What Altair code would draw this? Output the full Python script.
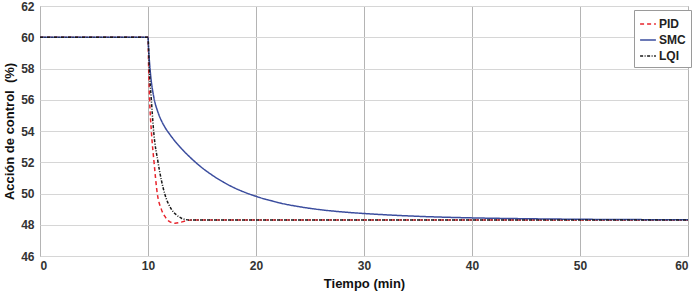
import altair as alt
import pandas as pd

series_names = ["PID", "SMC", "LQI"]
series_colors = ["#e8242c", "#3b4d9e", "#1a1a1a"]

pid_t = [0, 10, 10.06, 10.15, 10.31, 10.56, 10.86, 11.23, 11.6, 12.0, 12.5, 13.0, 13.5, 14.0, 60]
pid_v = [60, 60, 58.0, 56.0, 54.0, 52.0, 50.0, 49.0, 48.5, 48.2, 48.1, 48.15, 48.25, 48.3, 48.3]

smc_t = [0, 10, 10.05, 10.15, 10.3, 10.45, 10.6, 10.8, 11.0, 11.25, 11.5, 12, 12.5, 13, 14, 15, 16, 17, 18,
         20, 22, 25, 28, 30, 35, 40, 45, 50, 55, 60]
smc_v = [60, 60, 59.3, 58.3, 57.2, 56.5, 55.95, 55.45, 55.05, 54.65, 54.32, 53.8, 53.35, 52.95, 52.25,
         51.65, 51.15, 50.72, 50.36, 49.82, 49.43, 49.05, 48.82, 48.72, 48.54, 48.44, 48.385, 48.35,
         48.33, 48.32]

lqi_t = [0, 10, 10.12, 10.31, 10.52, 10.93, 11.54, 12.16, 12.6, 13.1, 13.9, 60]
lqi_v = [60, 60, 58.0, 56.0, 54.0, 52.0, 50.0, 49.0, 48.65, 48.42, 48.3, 48.3]

x_ticks = [0, 10, 20, 30, 40, 50, 60]
y_ticks = [46, 48, 50, 52, 54, 56, 58, 60, 62]

rows = []
for name, ts, vs in [("PID", pid_t, pid_v), ("SMC", smc_t, smc_v), ("LQI", lqi_t, lqi_v)]:
    for i, (t, v) in enumerate(zip(ts, vs)):
        rows.append({"serie": name, "t": t, "v": v, "ord": i})
df = pd.DataFrame(rows)

font = "Liberation Sans"

chart = alt.Chart(df).mark_line(strokeWidth=1.5, interpolate="monotone").encode(
    x=alt.X("t:Q", scale=alt.Scale(domain=[0, 60], nice=False),
            axis=alt.Axis(values=x_ticks, title="Tiempo (min)", grid=True,
                          gridColor="#b4b4b4", gridWidth=1, ticks=False,
                          labelPadding=4, titlePadding=6)),
    y=alt.Y("v:Q", scale=alt.Scale(domain=[46, 62], nice=False, zero=False),
            axis=alt.Axis(values=y_ticks, title="Acción de control\u00a0 (%)", grid=True,
                          gridColor="#d6d6d6", gridWidth=1, ticks=False,
                          labelPadding=6, titlePadding=4)),
    color=alt.Color("serie:N", scale=alt.Scale(domain=series_names, range=series_colors),
                    legend=alt.Legend(title=None, orient="none", legendX=594, legendY=4,
                                      fillColor="white", strokeColor="#9a9a9a",
                                      padding=5, symbolType="stroke", symbolSize=250,
                                      symbolStrokeWidth=1.5, labelFont=font,
                                      labelFontSize=12, labelFontWeight="bold",
                                      labelColor="#222", rowPadding=1, labelOffset=2)),
    strokeDash=alt.StrokeDash("serie:N", scale=alt.Scale(domain=series_names,
                              range=[[4, 3], [1, 0], [3, 1.5, 1, 1.5]]), legend=None),
    order="ord:Q",
).properties(
    width=648, height=250,
    autosize=alt.AutoSizeParams(type="none"),
    padding={"left": 40, "top": 6, "right": 12, "bottom": 43},
).configure_view(
    stroke="#9a9a9a", strokeWidth=1
).configure_axis(
    labelFont=font, labelFontSize=12, labelFontWeight="bold", labelColor="#333",
    titleFont=font, titleFontSize=13, titleFontWeight="bold", titleColor="#111",
    domain=False,
)

chart.save("out.html", embed_options={"renderer": "svg", "actions": False})
